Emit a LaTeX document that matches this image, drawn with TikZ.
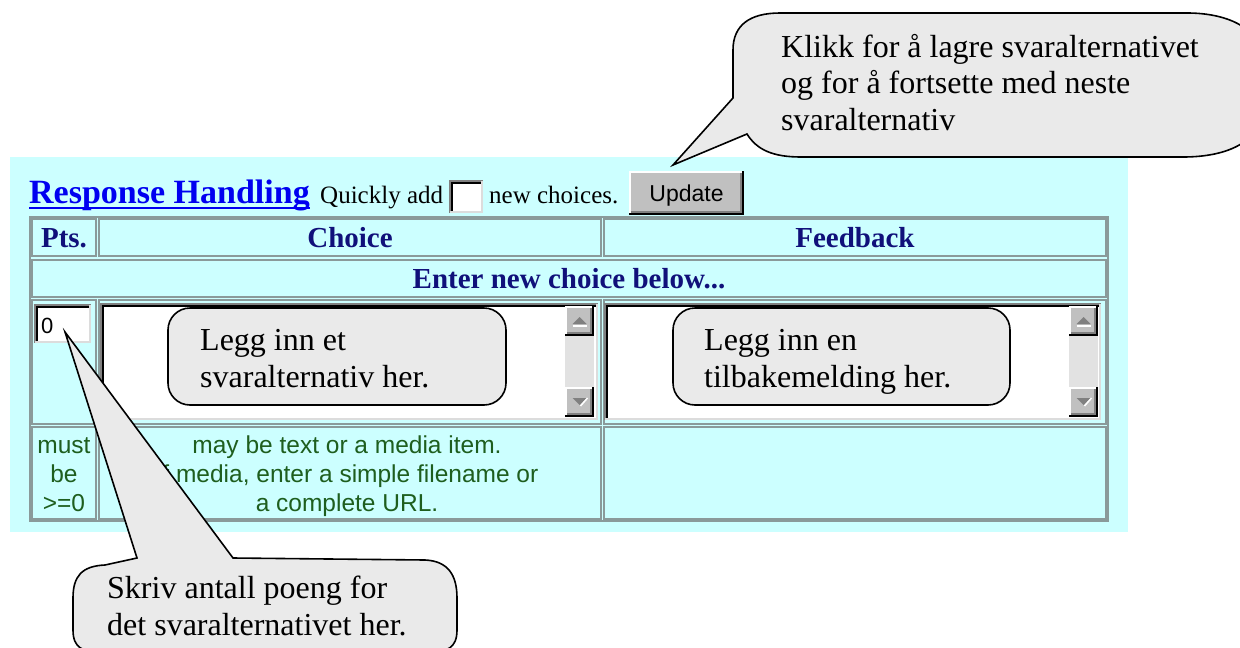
\documentclass[tikz,border=0pt]{standalone}
\usepackage{fontspec}
\setmainfont{Liberation Serif}
\newfontfamily\uisans{Liberation Sans}

\definecolor{pagecyan}{HTML}{CCFFFF}
\definecolor{linkblue}{HTML}{0000F0}
\definecolor{hdrnavy}{HTML}{10107A}
\definecolor{notegreen}{HTML}{1E5E1E}
\definecolor{bubblefill}{HTML}{EAEAEA}
\definecolor{cellline}{HTML}{8A9A9A}
\definecolor{btnface}{HTML}{C0C0C0}
\definecolor{btnshadow}{HTML}{808080}
\definecolor{lightedge}{HTML}{DCDCDC}
\definecolor{trackgray}{HTML}{E2E2E2}

% raised grey button face: x1 y1 x2 y2 (y grows downwards)
\newcommand{\uiraised}[4]{%
  \fill[btnface] (#1,#2) rectangle (#3,#4);
  \draw[white, line width=2pt] (#1+1,#4-1) -- (#1+1,#2+1) -- (#3-1,#2+1);
  \draw[btnshadow, line width=2pt] (#1+2,#4-3) -- (#3-3,#4-3) -- (#3-3,#2+2);
  \draw[black, line width=2pt] (#1,#4-1) -- (#3-1,#4-1) -- (#3-1,#2);
}
% sunken white input field
\newcommand{\uisunken}[4]{%
  \fill[white] (#1,#2) rectangle (#3,#4);
  \draw[btnshadow, line width=2pt] (#1+1,#4) -- (#1+1,#2+1) -- (#3,#2+1);
  \draw[black, line width=2pt] (#1+3,#4-2) -- (#1+3,#2+3) -- (#3-2,#2+3);
  \draw[lightedge, line width=2pt] (#1+1,#4-1) -- (#3-1,#4-1) -- (#3-1,#2+1);
}
% vertical scroll bar with two arrow buttons
\newcommand{\uiscroll}[4]{%
  \fill[trackgray] (#1,#2) rectangle (#3,#4);
  \uiraised{#1}{#2}{#3}{#2+30}
  \uiraised{#1}{#4-30}{#3}{#4}
  \fill[btnshadow] ({(#1+#3)/2-7},#2+18) -- ({(#1+#3)/2+7},#2+18) -- ({(#1+#3)/2},#2+11) -- cycle;
  \draw[white, line width=1.5pt] ({(#1+#3)/2-7},#2+20) -- ({(#1+#3)/2+7},#2+20);
  \fill[btnshadow] ({(#1+#3)/2-7},#4-19) -- ({(#1+#3)/2+7},#4-19) -- ({(#1+#3)/2},#4-12) -- cycle;
  \draw[white, line width=1.5pt] ({(#1+#3)/2+1},#4-11) -- ({(#1+#3)/2+8},#4-19);
}

\begin{document}
\begin{tikzpicture}[x=1pt,y=-1pt,
  linktext/.style={font=\bfseries\fontsize{34}{40}\selectfont, text=linkblue, anchor=base west, inner sep=0pt},
  quicktext/.style={font=\fontsize{25}{30}\selectfont, anchor=base west, inner sep=0pt},
  btntext/.style={font=\uisans\fontsize{23}{27}\selectfont, anchor=base, inner sep=0pt},
  hdr/.style={font=\bfseries\fontsize{29}{34}\selectfont, text=hdrnavy, anchor=base, inner sep=0pt},
  notetext/.style={font=\uisans\fontsize{24.5}{29}\selectfont, text=notegreen, anchor=base, inner sep=0pt},
  fieldtext/.style={font=\uisans\fontsize{22}{26}\selectfont, anchor=base west, inner sep=0pt},
  calltext/.style={font=\fontsize{32}{37}\selectfont, anchor=base west, inner sep=0pt},
  tcell/.style={draw=cellline, line width=1.5pt},
  bubble/.style={fill=bubblefill, draw=black, line width=1.6pt, line join=miter},
]
\useasboundingbox (0,0) rectangle (1240,648);
\clip (0,0) rectangle (1240,648);
\fill[white] (0,0) rectangle (1240,648);

% form panel
\fill[pagecyan] (10,157) rectangle (1128,532);

% heading line with quick-add field and button
\node[linktext] (rh) at (29,203) {Response Handling};
\draw[linkblue, line width=2pt] ([yshift=-5pt]rh.base west) -- ([yshift=-5pt]rh.base east);
\node[quicktext] (qa) at (320,203) {Quickly add};
\uisunken{449}{180}{483}{213}
\node[quicktext] (nc) at (489,203) {new choices.};
\uiraised{629}{171}{744}{215}
\node[btntext] (upd) at (686.5,201) {Update};

% table frame and cells
\draw[cellline, line width=1.5pt] (30,217) rectangle (1108,521);
\foreach \xa/\xb in {32/96, 99/601, 604/1106} {
  \draw[tcell] (\xa,219) rectangle (\xb,256);
  \draw[tcell] (\xa,300) rectangle (\xb,424);
  \draw[tcell] (\xa,427) rectangle (\xb,519);
}
\draw[tcell] (32,260) rectangle (1106,297);

% header texts
\node[hdr] (hpts) at (64,247) {Pts.};
\node[hdr] (hchoice) at (350,247) {Choice};
\node[hdr] (hfb) at (855,247) {Feedback};
\node[hdr] (henter) at (569,288) {Enter new choice below...};

% input row
\uisunken{34}{304}{91}{343}
\node[fieldtext] (pts0) at (41,333) {0};
\uisunken{100}{303}{598}{420}
\uiscroll{565}{306}{594}{417}
\uisunken{604}{303}{1101}{420}
\uiscroll{1069}{306}{1098}{417}

% hint row
\node[notetext] (must1) at (64,453) {must};
\node[notetext] (must2) at (64,482) {be};
\node[notetext] (must3) at (64,511) {>=0};
\node[notetext] (hint1) at (347,453) {may be text or a media item.};
\node[notetext] (hint2) at (347,482) {If media, enter a simple filename or};
\node[notetext] (hint3) at (347,511) {a complete URL.};

% callouts inside the text areas
\draw[bubble, rounded corners=22pt] (168,308) rectangle (506,405);
\node[calltext] (c1a) at (200,350) {Legg inn et};
\node[calltext] (c1b) at (200,387) {svaralternativ her.};
\draw[bubble, rounded corners=22pt] (673,308) rectangle (1010,405);
\node[calltext] (c2a) at (704,350) {Legg inn en};
\node[calltext] (c2b) at (704,387) {tilbakemelding her.};

% callout pointing at the Update button
\draw[bubble] (733,98) -- (673,165) -- (747,134)
  .. controls (757,150) and (773,157) .. (801,157) -- (1183,157)
  .. controls (1230,157) and (1262,140) .. (1262,108) -- (1262,60)
  .. controls (1262,30) and (1230,13) .. (1187,13) -- (780,13)
  .. controls (750,13) and (733,25) .. (733,50) -- cycle;
\node[calltext] (c3a) at (781,57) {Klikk for å lagre svaralternativet};
\node[calltext] (c3b) at (781,93) {og for å fortsette med neste};
\node[calltext] (c3c) at (781,130) {svaralternativ};

% callout pointing at the points field
\draw[bubble] (137,558) -- (65,332) -- (233,558) -- (425,560)
  .. controls (448,561) and (457,575) .. (457,598) -- (457,630)
  .. controls (457,648) and (447,652) .. (430,652) -- (100,652)
  .. controls (83,652) and (73,648) .. (73,630) -- (73,598)
  .. controls (73,576) and (82,566) .. (105,565) -- cycle;
\node[calltext] (c4a) at (107,598) {Skriv antall poeng for};
\node[calltext] (c4b) at (107,635) {det svaralternativet her.};
\end{tikzpicture}
\end{document}
